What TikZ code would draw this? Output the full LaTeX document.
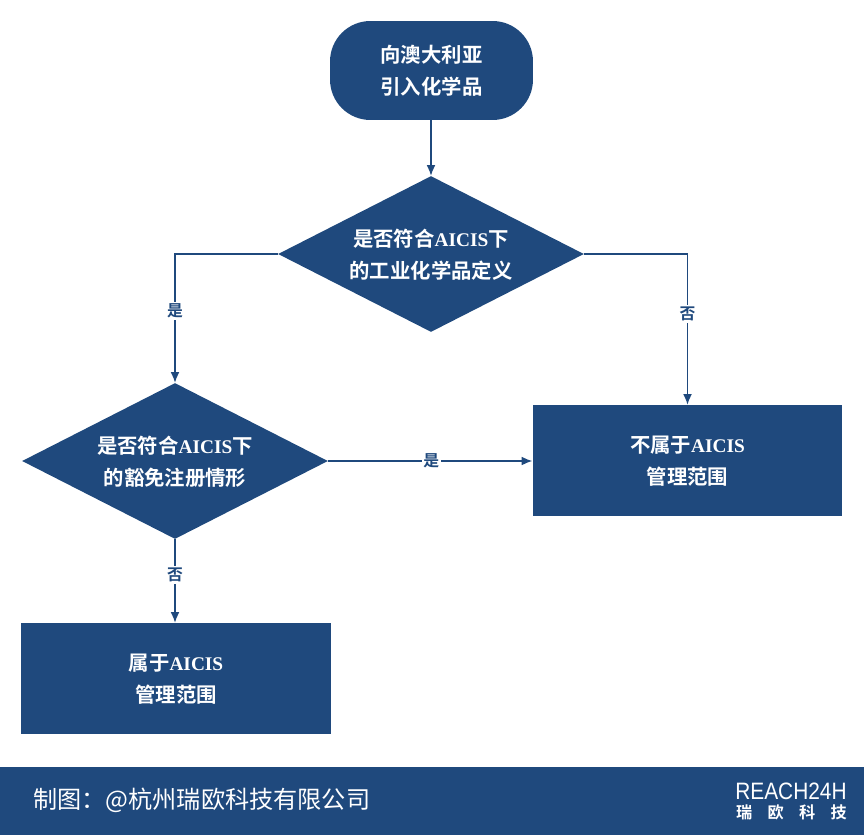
\documentclass[tikz,border=0pt]{standalone}
\usepackage{fontspec}
\setmainfont{Liberation Serif}
\newfontfamily\cjkbold[BoldFont=Noto Sans CJK SC Bold]{Noto Sans CJK SC}
\newfontfamily\cjkthin{Noto Sans CJK SC}
\newfontfamily\logofont{Liberation Sans}
\usetikzlibrary{shapes.geometric,arrows.meta}
\definecolor{flowblue}{HTML}{1F497D}
\newcommand{\aicis}{{\fontspec{Liberation Serif}\bfseries\fontsize{11}{18}\selectfont AICIS}}
\tikzset{
  flowtext/.style={text=white,align=center,text height=28.5pt,font=\cjkbold\bfseries\fontsize{11.6}{18}\selectfont},
  startbox/.style={flowtext,fill=flowblue,rounded corners=23pt,minimum width=4.06cm,minimum height=1.98cm,inner sep=0pt},
  askbox/.style={flowtext,diamond,fill=flowblue,aspect=1.96,inner sep=0pt,minimum width=6.12cm,minimum height=3.12cm},
  endbox/.style={flowtext,fill=flowblue,minimum width=6.2cm,minimum height=2.22cm,inner sep=0pt},
  flowline/.style={draw=flowblue,line width=0.7pt,-{Latex[length=6pt,width=5pt]}},
  edgelabel/.style={fill=white,text=flowblue,font=\cjkbold\bfseries\fontsize{9}{10}\selectfont,inner sep=1pt},
}
\begin{document}
\begin{tikzpicture}[x=0.02cm,y=-0.02cm]
\useasboundingbox (0,0) rectangle (864,835);
\fill[flowblue] (0,767) rectangle (864,835);
\node[startbox] (start) at (431.5,70.5) {向澳大利亚\\引入化学品};
\node[askbox] (askdef) at (431,254) {是否符合\aicis{}下\\的工业化学品定义};
\node[askbox] (askfree) at (175,461) {是否符合\aicis{}下\\的豁免注册情形};
\node[endbox] (outside) at (687.5,460.5) {不属于\aicis{}\\管理范围};
\node[endbox] (inside) at (176,678.5) {属于\aicis{}\\管理范围};
\draw[flowline] (start.south -| askdef.north) -- (askdef.north);
\draw[flowline] (askdef.west) -| node[edgelabel,pos=0.72] (lyes) {是} (askfree.north);
\draw[flowline] (askdef.east) -| node[edgelabel,pos=0.70] (lno) {否} (outside.north);
\draw[flowline] (askfree.east) -- node[edgelabel,pos=0.505] (lfree) {是} (askfree.east -| outside.west);
\draw[flowline] (askfree.south) -- node[edgelabel,pos=0.43] (lnot) {否} (askfree.south |- inside.north);
\node[text=white,font=\cjkthin\fontsize{13.75}{16}\selectfont,anchor=west,inner sep=0pt] (credit) at (33,800.5) {制图：@杭州瑞欧科技有限公司};
\node[text=white,font=\logofont\fontsize{13.5}{14}\selectfont,anchor=east,inner sep=0pt] (logoa) at (847,791) {\scalebox{0.88}[1]{REACH24H}};
\node[text=white,font=\cjkbold\bfseries\fontsize{9.2}{10}\selectfont,anchor=center,inner sep=0pt] (logob) at (791.5,812.5) {瑞\hspace{8.75pt}欧\hspace{8.75pt}科\hspace{8.75pt}技};
\end{tikzpicture}
\end{document}
